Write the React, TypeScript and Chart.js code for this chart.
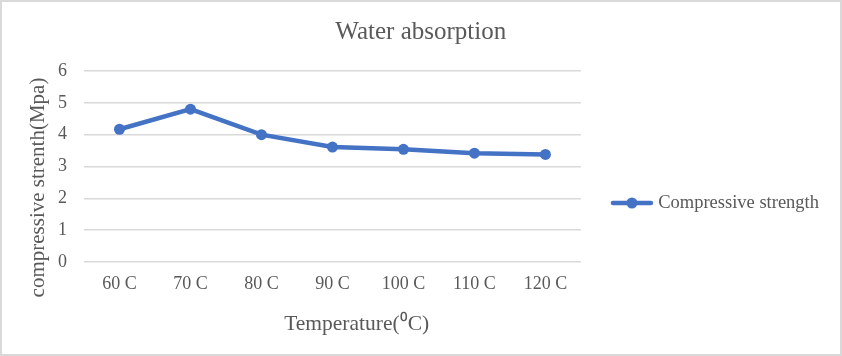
import React, { useEffect, useRef } from 'react';
import { Chart, registerables } from 'chart.js';

Chart.register(...registerables);

// ---- data ----
const categories = ['60 C', '70 C', '80 C', '90 C', '100 C', '110 C', '120 C'];
const compressiveStrength = [4.17, 4.8, 4.0, 3.61, 3.54, 3.42, 3.38];
const seriesName = 'Compressive strength';
const chartTitle = 'Water absorption';
const xAxisTitle = 'Temperature(⁰C)';
const yAxisTitle = 'compressive strenth(Mpa)';
const yMin = 0;
const yMax = 6;
const yStep = 1;

// ---- styles ----
const BLUE = '#4472C4';
const GREY = '#595959';
const GRID = '#d9d9d9';
const FONT = '"Liberation Serif", "Times New Roman", serif';

function makeLegendSymbol(): HTMLCanvasElement {
  const c = document.createElement('canvas');
  c.width = 44;
  c.height = 14;
  const g = c.getContext('2d')!;
  g.strokeStyle = BLUE;
  g.lineWidth = 4.5;
  g.lineCap = 'round';
  g.beginPath();
  g.moveTo(3, 7);
  g.lineTo(41, 7);
  g.stroke();
  g.fillStyle = BLUE;
  g.beginPath();
  g.arc(22, 7, 5.5, 0, Math.PI * 2);
  g.fill();
  return c;
}

const framePlugin = {
  id: 'frame',
  beforeDraw(chart: any) {
    const { ctx, width, height } = chart;
    ctx.save();
    ctx.fillStyle = '#ffffff';
    ctx.fillRect(0, 0, width, height);
    ctx.restore();
  },
  afterDraw(chart: any) {
    const { ctx, width, height } = chart;
    ctx.save();
    ctx.strokeStyle = '#d9d9d9';
    ctx.lineWidth = 2;
    ctx.strokeRect(1, 1, width - 2, height - 2);
    ctx.restore();
  },
};

export default function App() {
  const canvasRef = useRef<HTMLCanvasElement | null>(null);

  useEffect(() => {
    const canvas = canvasRef.current;
    if (!canvas) return;
    const symbol = makeLegendSymbol();
    const chart = new Chart(canvas, {
      type: 'line',
      data: {
        labels: categories,
        datasets: [
          {
            label: seriesName,
            data: compressiveStrength,
            borderColor: BLUE,
            backgroundColor: BLUE,
            borderWidth: 4.5,
            pointRadius: 5.5,
            pointBorderWidth: 0,
            pointBackgroundColor: BLUE,
            tension: 0,
            fill: false,
          },
        ],
      },
      options: {
        responsive: false,
        animation: false,
        layout: { padding: { left: 0, right: 13, top: 0, bottom: 0 } },
        plugins: {
          title: {
            display: true,
            text: '  ' + chartTitle,
            color: GREY,
            font: { family: FONT, size: 25, weight: 'normal' },
            padding: { top: 17, bottom: 24 },
          },
          legend: {
            position: 'right',
            align: 'center',
            fullSize: true,
            maxWidth: 320,
            title: { display: true, text: ' ', font: { size: 12 }, padding: 17.8 },
            labels: {
              usePointStyle: true,
              pointStyleWidth: 34,
              padding: 34,
              color: GREY,
              font: { family: FONT, size: 18.5 },
              generateLabels: (c: any) => {
                const items = (Chart.defaults.plugins.legend.labels as any).generateLabels(c);
                items.forEach((it: any) => {
                  it.pointStyle = symbol;
                });
                return items;
              },
            },
          },
          tooltip: { enabled: false },
        },
        scales: {
          x: {
            type: 'category',
            offset: true,
            grid: { display: false, drawTicks: false },
            border: { display: false },
            ticks: {
              color: GREY,
              font: { family: FONT, size: 18 },
              padding: 11,
              maxRotation: 0,
              autoSkip: false,
            },
            title: {
              display: true,
              text: '         ' + xAxisTitle,
              color: GREY,
              font: { family: FONT, size: 21.5 },
              padding: { top: 0, bottom: 18.5 },
            },
            afterFit: (s: any) => {
              s.height = 94;
            },
          },
          y: {
            min: yMin,
            max: yMax,
            ticks: {
              stepSize: yStep,
              color: GREY,
              font: { family: FONT, size: 18 },
              padding: 17,
            },
            grid: { color: GRID, lineWidth: 1.5, drawTicks: false },
            border: { display: false },
            title: {
              display: true,
              text: yAxisTitle + '        ',
              color: GREY,
              font: { family: FONT, size: 21 },
              padding: { top: 25.4, bottom: 0 },
            },
            afterFit: (s: any) => {
              s.width = 84;
            },
          },
        },
      } as any,
      plugins: [framePlugin],
    });
    return () => chart.destroy();
  }, []);

  return (
    <div style={{ position: 'absolute', left: 0, top: 0, width: 842, height: 356, background: '#fff' }}>
      <canvas ref={canvasRef} width={842} height={356} style={{ display: 'block' }} />
    </div>
  );
}
